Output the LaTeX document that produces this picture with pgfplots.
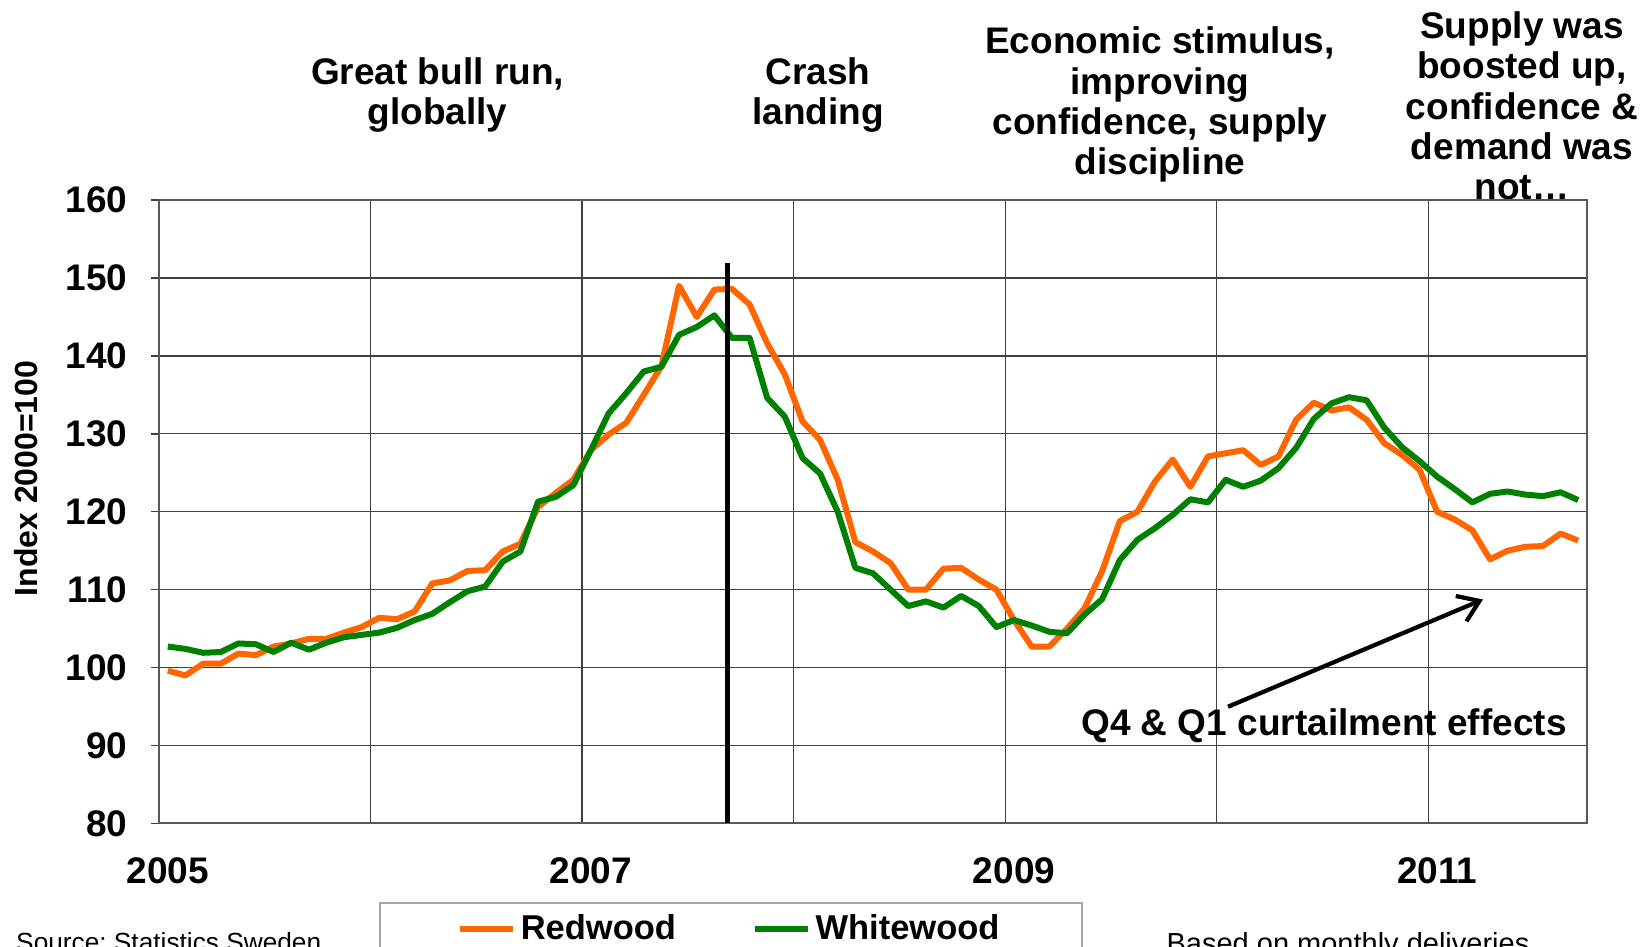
\documentclass[border=0pt]{standalone}
\usepackage{fontspec}
\setmainfont{Liberation Sans}
\usepackage{pgfplots}
\pgfplotsset{compat=1.18}
\usepackage{pgfplotstable}
\usetikzlibrary{arrows.meta}
\definecolor{redwood}{HTML}{FF6600}
\definecolor{whitewood}{HTML}{008000}
\newcommand\bigb{\fontsize{14.8}{16.1}\selectfont\bfseries}
\frenchspacing

% monthly index, Jan 2005 = 0
\pgfplotstableread{
m  red    white
0  99.6   102.7
1  99.0   102.4
2  100.5  101.9
3  100.5  102.0
4  101.8  103.1
5  101.6  103.0
6  102.7  102.0
7  103.1  103.2
8  103.7  102.3
9  103.7  103.2
10 104.5  103.9
11 105.2  104.2
12 106.4  104.5
13 106.2  105.1
14 107.2  106.1
15 110.8  106.9
16 111.2  108.4
17 112.4  109.8
18 112.5  110.4
19 114.9  113.6
20 115.9  114.9
21 120.6  121.3
22 122.4  121.9
23 124.1  123.4
24 127.9  127.9
25 129.9  132.6
26 131.4  135.2
27 135.0  138.0
28 138.7  138.6
29 149.0  142.7
30 145.0  143.7
31 148.5  145.2
32 148.6  142.3
33 146.6  142.3
34 141.6  134.6
35 137.6  132.2
36 131.6  126.9
37 129.2  124.9
38 124.1  120.0
39 116.1  112.8
40 114.9  112.1
41 113.4  110.0
42 110.0  107.9
43 110.0  108.5
44 112.7  107.7
45 112.8  109.2
46 111.3  107.9
47 110.0  105.2
48 106.1  106.1
49 102.7  105.4
50 102.7  104.6
51 105.0  104.4
52 107.6  106.8
53 112.4  108.8
54 118.8  113.8
55 120.0  116.4
56 123.9  117.9
57 126.7  119.6
58 123.2  121.6
59 127.1  121.2
60 127.5  124.1
61 127.9  123.2
62 126.0  124.0
63 127.1  125.6
64 131.8  128.2
65 134.0  131.9
66 133.0  133.9
67 133.4  134.7
68 131.8  134.3
69 128.8  130.8
70 127.3  128.3
71 125.4  126.5
72 120.0  124.5
73 119.0  122.9
74 117.6  121.2
75 113.9  122.3
76 115.0  122.6
77 115.5  122.2
78 115.6  122.0
79 117.2  122.5
80 116.3  121.5
}\prices

\begin{document}
\begin{tikzpicture}
\path[use as bounding box] (-63.6pt,-49.4pt) rectangle (596pt,329.4pt);

% phase notes above the plot (drawn first: the plot area covers the last line)
\node[font=\bigb, align=center, inner sep=0pt] at (111.4pt,291.3pt) {Great bull run,\\globally};
\node[font=\bigb, align=center, inner sep=0pt] at (263.6pt,291.3pt) {Crash\\landing};
\node[font=\bigb, align=center, inner sep=0pt] at (400.4pt,287.5pt) {Economic stimulus,\\improving\\confidence, supply\\discipline};
\node[font=\bigb, align=center, inner sep=0pt] at (545.2pt,287pt) {Supply was\\boosted up,\\confidence \&\\demand was\\not…};

\begin{axis}[
    width=571.2pt, height=249.4pt, scale only axis,
    axis background/.style={fill=white},
    xmin=-0.5, xmax=80.5, ymin=80, ymax=160,
    ytick={80,90,...,160},
    xtick={0,24,48,72}, xticklabels={2005,2007,2009,2011},
    minor xtick={-0.5,11.5,...,71.5},
    xminorgrids, ymajorgrids,
    major grid style={black!75, line width=0.55pt},
    minor grid style={black!75, line width=0.55pt},
    axis line style={black!65, line width=0.8pt},
    tick align=outside, major tick length=3pt, minor tick length=0pt,
    ytick pos=left,
    xtick style={draw=none},
    ytick style={black!75, line width=0.6pt},
    tick label style={font=\bigb},
    /pgf/number format/assume math mode=true,
    yticklabel style={anchor=east, inner sep=0pt, xshift=-9.4pt},
    xticklabel style={anchor=north, inner sep=0pt, yshift=-10.6pt},
    legend columns=2,
    legend style={at={(0.4005,-0.1259)}, anchor=north, draw=gray!70,
        line width=0.9pt, fill=white, inner xsep=31pt, inner ysep=2.5pt,
        font=\fontsize{13.8}{15}\selectfont\bfseries,
        /tikz/every even column/.append style={column sep=28.4pt}},
    legend image code/.code={\draw[#1, line width=2.4pt] (0pt,0pt) -- (21pt,0pt);},
]
\addplot[redwood, line width=2.4pt, line join=round] table[x=m, y=red] {\prices};
\addlegendentry{Redwood}
\addplot[whitewood, line width=2.4pt, line join=round] table[x=m, y=white] {\prices};
\addlegendentry{Whitewood}
\addplot[black, line width=2.1pt, forget plot] coordinates {(31.76,80) (31.76,151.9)};
\end{axis}

\node[rotate=90, font=\fontsize{12.8}{14}\selectfont\bfseries] at (-53.1pt,138pt) {Index 2000=100};
\node[font=\bigb, inner sep=0pt] at (466pt,39.1pt) {Q4 \& Q1 curtailment effects};
\draw[line width=1.7pt, -{Straight Barb[length=8pt,width=11pt]}] (427.6pt,46.7pt) -- (529.6pt,89.6pt);
\node[anchor=base west, inner sep=0pt, font=\fontsize{10.5}{12}\selectfont] at (-57.3pt,-51.4pt) {Source: Statistics Sweden};
\node[anchor=base, inner sep=0pt, font=\fontsize{11.6}{13}\selectfont] at (475.6pt,-52pt) {Based on monthly deliveries};
\end{tikzpicture}
\end{document}
